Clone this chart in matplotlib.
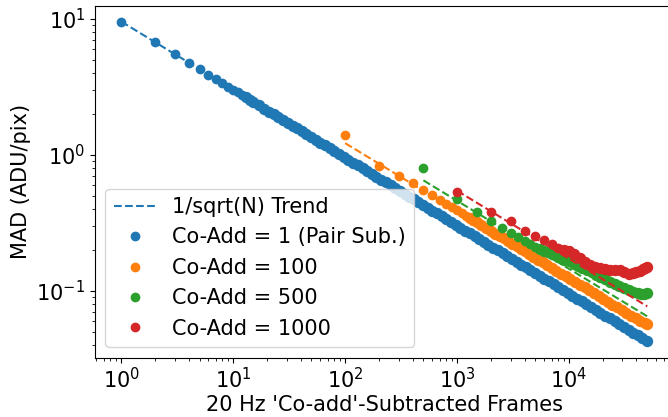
import numpy as np
import matplotlib.pyplot as plt

# Co-Add = 1 (pair subtraction)
n_1 = [1, 2, 3, 4, 5, 6, 7, 8, 9, 10, 11, 12, 13, 14, 15, 17, 19, 21, 23, 25,
       28, 31, 34, 37, 41, 45, 50, 55, 60, 66, 73, 80, 88, 97, 107, 118, 130,
       143, 157, 173, 190, 210, 230, 255, 280, 310, 340, 375, 410, 450, 500,
       550, 600, 660, 730, 800, 880, 970, 1070, 1180, 1300, 1430, 1570, 1730,
       1900, 2100, 2300, 2550, 2800, 3100, 3400, 3750, 4100, 4500, 5000, 5500,
       6000, 6600, 7300, 8000, 8800, 9700, 10700, 11800, 13000, 14300, 15700,
       17300, 19000, 21000, 23000, 25500, 28000, 31000, 34000, 37500, 41000,
       45000, 49500]
mad_1 = [9.55, 6.75, 5.51, 4.78, 4.27, 3.90, 3.61, 3.38, 3.18, 3.02, 2.88, 2.76,
         2.65, 2.55, 2.47, 2.32, 2.19, 2.08, 1.99, 1.91, 1.80, 1.72, 1.64, 1.57,
         1.49, 1.42, 1.35, 1.29, 1.23, 1.18, 1.12, 1.07, 1.02, 0.970, 0.923,
         0.879, 0.838, 0.799, 0.762, 0.726, 0.693, 0.659, 0.630, 0.598, 0.571,
         0.542, 0.518, 0.493, 0.472, 0.450, 0.427, 0.407, 0.390, 0.372, 0.353,
         0.338, 0.322, 0.307, 0.292, 0.278, 0.265, 0.253, 0.241, 0.230, 0.219,
         0.208, 0.199, 0.189, 0.180, 0.172, 0.164, 0.156, 0.149, 0.142, 0.135,
         0.129, 0.123, 0.118, 0.112, 0.107, 0.102, 0.0970, 0.0923, 0.0879,
         0.0838, 0.0799, 0.0762, 0.0726, 0.0693, 0.0659, 0.0630, 0.0598, 0.0571,
         0.0542, 0.0518, 0.0493, 0.0472, 0.0450, 0.0432]

# Co-Add = 100
n_100 = [100, 200, 300, 400, 500, 600, 700, 800, 900, 1000, 1100, 1200, 1300,
         1400, 1500, 1650, 1800, 2000, 2200, 2400, 2600, 2850, 3100, 3400, 3700,
         4000, 4400, 4800, 5300, 5800, 6400, 7000, 7700, 8500, 9400, 10300,
         11300, 12500, 13800, 15200, 16700, 18400, 20200, 22200, 24400, 26800,
         29500, 32500, 35700, 39300, 43200, 47500, 49500]
mad_100 = [1.40, 0.83, 0.705, 0.625, 0.555, 0.506, 0.469, 0.438, 0.413, 0.392,
           0.374, 0.358, 0.344, 0.331, 0.320, 0.305, 0.292, 0.277, 0.264, 0.253,
           0.243, 0.232, 0.223, 0.213, 0.204, 0.196, 0.187, 0.179, 0.170, 0.163,
           0.155, 0.148, 0.141, 0.134, 0.128, 0.122, 0.117, 0.111, 0.106, 0.101,
           0.0960, 0.0914, 0.0872, 0.0832, 0.0794, 0.0757, 0.0722, 0.0688,
           0.0656, 0.0628, 0.0604, 0.0584, 0.0575]

# Co-Add = 500
n_500 = [500, 1000, 1500, 2000, 2500, 3000, 3500, 4000, 4500, 5000, 5500, 6000,
         6500, 7000, 7500, 8000, 9000, 10000, 11000, 12000, 13000, 14500, 16000,
         17500, 19000, 21000, 23000, 25500, 28000, 31000, 34000, 37500, 41000,
         44000, 47000, 50000]
mad_500 = [0.798, 0.472, 0.383, 0.324, 0.289, 0.265, 0.248, 0.233, 0.222, 0.212,
           0.204, 0.198, 0.192, 0.187, 0.183, 0.178, 0.170, 0.165, 0.159, 0.152,
           0.147, 0.142, 0.137, 0.132, 0.127, 0.122, 0.117, 0.112, 0.109, 0.105,
           0.101, 0.0985, 0.0965, 0.0955, 0.0950, 0.0960]

# Co-Add = 1000
n_1000 = [1000, 2000, 3000, 4000, 5000, 6000, 7000, 8000, 9000, 10000, 11000,
          12500, 14000, 15500, 17000, 19000, 21000, 23000, 25500, 28500, 31000,
          34000, 37000, 40000, 43000, 46000, 48000, 50000]
mad_1000 = [0.537, 0.380, 0.324, 0.277, 0.254, 0.237, 0.220, 0.208, 0.200, 0.195,
            0.188, 0.176, 0.164, 0.155, 0.150, 0.147, 0.144, 0.1425, 0.142,
            0.143, 0.137, 0.134, 0.136, 0.138, 0.141, 0.1445, 0.147, 0.149]

# 1/sqrt(N) trend lines (start and end points)
trend_n = [[1, 49500], [100, 49500], [500, 50000], [1000, 50000]]
trend_mad = [[9.55, 0.0429], [1.22, 0.0548], [0.65, 0.065], [0.545, 0.077]]

series = [(n_1, mad_1, "Co-Add = 1 (Pair Sub.)"),
          (n_100, mad_100, "Co-Add = 100"),
          (n_500, mad_500, "Co-Add = 500"),
          (n_1000, mad_1000, "Co-Add = 1000")]
colors = ["C0", "C1", "C2", "C3"]
# where the points start to pile up into a band (drawn a bit wider)
dense_from = [12, 12, 10, 8]

fig = plt.figure(figsize=(6.68, 4.17), dpi=100)
ax = fig.add_axes([95 / 668, 59.5 / 417, 578.6 / 668, 352 / 417])

for i, (n, mad, lab) in enumerate(series):
    ax.plot(trend_n[i], trend_mad[i], "--", color=colors[i],
            label="1/sqrt(N) Trend" if i == 0 else None)
    ax.plot(n, mad, "o", color=colors[i], label=lab)
    k = dense_from[i]
    ax.plot(n[k:], mad[k:], "o", ms=7.2, color=colors[i])

ax.set_xscale("log")
ax.set_yscale("log")
ax.set_xlim(0.582, 85900)
ax.set_ylim(0.0324, 12.55)
ax.tick_params(labelsize=15)
ax.set_xlabel("20 Hz 'Co-add'-Subtracted Frames", fontsize=15, labelpad=2)
ax.set_ylabel("MAD (ADU/pix)", fontsize=15)
ax.legend(loc="lower left", fontsize=15)

fig.savefig("out.png", dpi=100)
